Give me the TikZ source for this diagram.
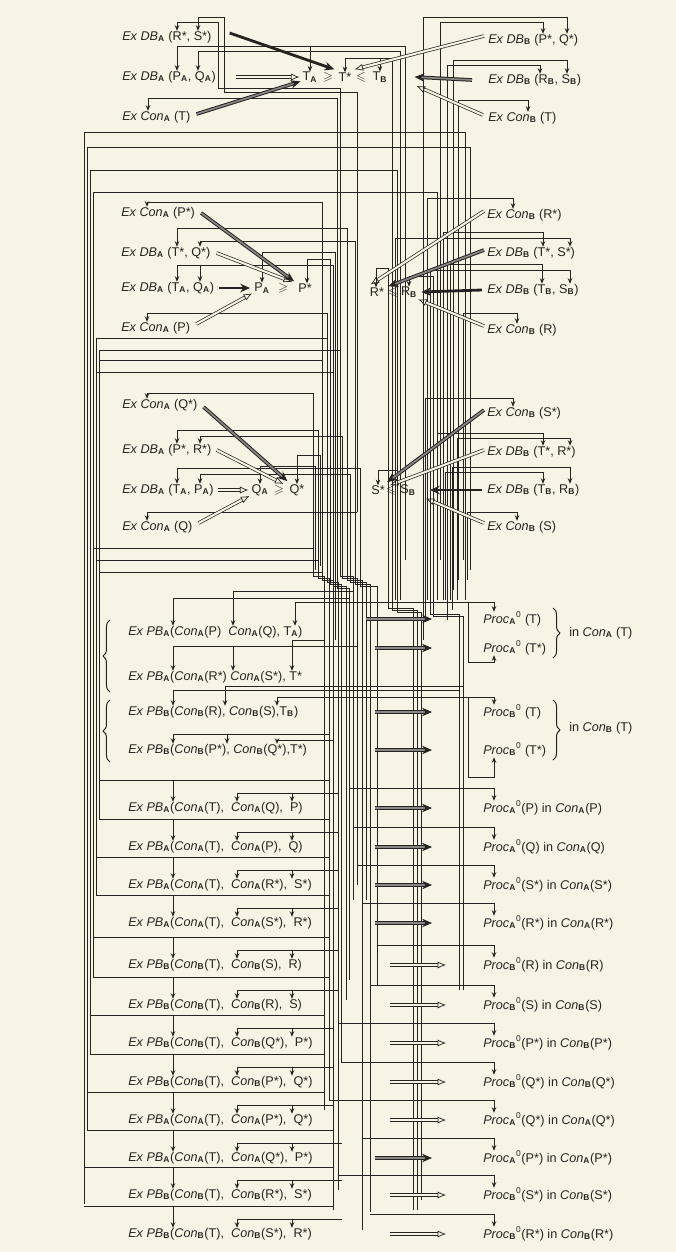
\documentclass[tikz,border=0pt]{standalone}
\usepackage{fontspec}
\setmainfont{Liberation Sans}
\usepackage{amsmath,amssymb}
\usetikzlibrary{arrows.meta,calc,decorations.pathreplacing}

\definecolor{paper}{RGB}{247,243,229}
\definecolor{ink}{RGB}{38,36,34}

\newcommand{\bsub}[1]{\textsubscript{\textbf{#1}}}
\newcommand{\ExDB}[1]{\textit{Ex DB}\bsub{#1}}
\newcommand{\ExCon}[1]{\textit{Ex Con}\bsub{#1}}
\newcommand{\ExPB}[1]{\textit{Ex PB}\bsub{#1}}
\newcommand{\Con}[1]{\textit{Con}\bsub{#1}}
\newcommand{\Proc}[1]{\textit{Proc}\bsub{#1}\textsuperscript{0}}
\newcommand{\ix}[2]{#1\bsub{#2}}

\tikzset{
  lbl/.style={anchor=west,inner sep=0pt,font=\fontsize{9}{10}\selectfont},
  sym/.style={inner sep=0pt,font=\fontsize{9}{10}\selectfont},
  wire/.style={line width=0.6pt},
  feed/.style={line width=0.6pt,-{Stealth[length=4pt,width=3.2pt]}},
  infer/.style={double=paper,double distance=1.5pt,line width=0.5pt,-{Latex[open,length=6pt,width=5pt]}},
  strong/.style={line width=2pt,-{Stealth[length=7pt,width=6pt]}},
  heavy/.style={double=ink!55,double distance=1.2pt,line width=0.7pt,-{Stealth[length=7pt,width=6pt]}},
  bracesty/.style={decorate,decoration={brace,amplitude=5pt},line width=0.7pt}
}

\begin{document}
\begin{tikzpicture}[x=0.025cm,y=-0.025cm,color=ink]
  \useasboundingbox (0,0) rectangle (676,1252);
  \fill[paper] (0,0) rectangle (676,1252);

  % T block
  \node[lbl] (a1) at (122,37) {\ExDB{A} (R*, S*)};
  \node[lbl] (a2) at (122,77) {\ExDB{A} (\ix{P}{A}, \ix{Q}{A})};
  \node[lbl] (a3) at (122,117) {\ExCon{A} (T)};
  \node[lbl] (b1) at (488,40) {\ExDB{B} (P*, Q*)};
  \node[lbl] (b2) at (488,80) {\ExDB{B} (\ix{R}{B}, \ix{S}{B})};
  \node[lbl] (b3) at (488,118) {\ExCon{B} (T)};
  \node[sym] (tA) at (310,77) {\ix{T}{A}};
  \node[sym] (tge) at (328,77) {$\geqslant$};
  \node[sym] (tS) at (345,77) {T*};
  \node[sym] (tle) at (361,77) {$\leqslant$};
  \node[sym] (tB) at (380,77) {\ix{T}{B}};

  \draw[feed] (353,900) |- (340,576) |- (218,88) |- (177,22) -- (177,0 |- a1.north);
  \draw[feed] (357,512) |- (224,92) |- (198,17) -- (198,0 |- a1.north);
  \draw[feed] (405,560) |- (177,46) -- (177,0 |- a2.north);
  \draw[feed] (310,46) -- (310,0 |- tA.north);
  \draw[feed] (400,600) |- (198,51) -- (198,0 |- a2.north);
  \draw[feed] (349,980) |- (337,588) |- (148,98) -- (148,0 |- a3.north);
  \draw[feed] (417,1210) |- (392,610) |- (345,58) -- (345,0 |- tS.north);
  \draw[feed] (380,58) -- (380,0 |- tB.north);
  \draw[feed] (423,640) |- (567,17) -- (567,0 |- b1.north);
  \draw[feed] (440,560) |- (543,22) -- (543,0 |- b1.north);
  \draw[feed] (453,590) |- (567,60) -- (567,0 |- b2.north);
  \draw[feed] (447,620) |- (540,65) -- (540,0 |- b2.north);
  \draw[feed] (458,580) |- (528,100) -- (528,0 |- b3.north);

  \draw[strong] ($(a1.east)+(18,-4)$) -- ($(tS.north west)+(-4,-3)$);
  \draw[infer] ($(b1.west)+(-4,-4)$) -- ($(tS.north east)+(3,-3)$);
  \draw[infer] ($(a2.east)+(20,0)$) -- ($(tA.west)+(-3,0)$);
  \draw[heavy] ($(a3.east)+(6,-3)$) -- ($(tA.south west)+(-2,-1)$);
  \draw[heavy] ($(b2.west)+(-16,0)$) -- ($(tB.east)+(27,0)$);
  \draw[infer] ($(b3.west)+(-5,-3)$) -- ($(tB.east)+(29,9)$);

  % long lines down the left side
  \draw[wire] (84,1204) -- (84,132) -- (465,132) -- (465,600);
  \draw[wire] (87,1130) -- (87,147) -- (470,147) -- (470,570);
  \draw[wire] (90,1054) -- (90,170) -- (397,170) -- (397,612) -- (421,612) -- (421,1200);
  \draw[wire] (93,977) -- (93,192) -- (437,192) -- (437,600);
  \draw[wire] (96,895) -- (96,338) -- (327,338);
  \draw[wire] (99,819) -- (99,350) -- (340,350);
  \draw[wire] (99,360) -- (322,360);
  \draw[wire] (96,372) -- (333,372);
  \draw[wire] (93,548) -- (313,548);
  \draw[wire] (96,560) -- (318,560);
  \draw[wire] (99,572) -- (322,572);

  % P and R block
  \node[lbl] (c1) at (121,213) {\ExCon{A} (P*)};
  \node[lbl] (c2) at (121,253) {\ExDB{A} (T*, Q*)};
  \node[lbl] (c3) at (121,288) {\ExDB{A} (\ix{T}{A}, \ix{Q}{A})};
  \node[lbl] (c4) at (121,328) {\ExCon{A} (P)};
  \node[sym] (pA) at (262,288) {\ix{P}{A}};
  \node[sym] (pge) at (283,288) {$\geqslant$};
  \node[sym] (pS) at (305,288) {P*};
  \node[lbl] (d1) at (487,215) {\ExCon{B} (R*)};
  \node[lbl] (d2) at (487,253) {\ExDB{B} (T*, S*)};
  \node[lbl] (d3) at (487,290) {\ExDB{B} (\ix{T}{B}, \ix{S}{B})};
  \node[lbl] (d4) at (487,330) {\ExCon{B} (R)};
  \node[sym] (rS) at (377,292) {R*};
  \node[sym] (rle) at (393,292) {$\leqslant$};
  \node[sym] (rB) at (409,292) {\ix{R}{B}};

  \draw[feed] (333,1210) |- (322,580) |- (147,202) -- (147,0 |- c1.north);
  \draw[feed] (362,1230) |- (347,580) |- (177,228) -- (177,0 |- c2.north);
  \draw[feed] (370,1212) |- (355,584) |- (200,241) -- (200,0 |- c2.north);
  \draw[feed] (346,1000) |- (333,586) |- (177,265) -- (177,0 |- c3.north);
  \draw[feed] (200,265) -- (200,0 |- c3.north);
  \draw[feed] (338,1190) |- (327,582) |- (147,313) -- (147,0 |- c4.north);
  \draw[feed] (335,640) |- (262,252) -- (262,0 |- pA.north);
  \draw[feed] (341,1062) |- (330,584) |- (307,259) -- (307,0 |- pS.north);
  \draw[feed] (427,600) |- (513,198) -- (513,0 |- d1.north);
  \draw[feed] (443,600) |- (543,232) -- (543,0 |- d2.north);
  \draw[feed] (395,600) |- (570,238) -- (570,0 |- d2.north);
  \draw[feed] (450,600) |- (542,264) -- (542,0 |- d3.north);
  \draw[feed] (459,990) |- (430,614) |- (570,270) -- (570,0 |- d3.north);
  \draw[feed] (463,560) |- (517,313) -- (517,0 |- d4.north);
  \draw[feed] (413,1210) |- (388,608) |- (376,268) -- (376,0 |- rS.north);
  \draw[feed] (463,990) |- (433,616) |- (409,276) -- (409,0 |- rB.north);

  \draw[heavy] ($(c1.east)+(6,0)$) -- ($(pS.north west)+(-4,-2)$);
  \draw[infer] ($(c2.east)+(6,0)$) -- ($(pS.west)+(-6,-6)$);
  \draw[strong] ($(c3.east)+(5,0)$) -- ($(pA.west)+(-4,0)$);
  \draw[infer] ($(c4.east)+(6,-4)$) -- ($(pA.south west)+(-2,0)$);
  \draw[infer] ($(d1.west)+(-3,-4)$) -- ($(rS.north west)+(1,-3)$);
  \draw[heavy] ($(d2.west)+(-3,-3)$) -- ($(rS.north east)+(4,-1)$);
  \draw[strong] ($(d3.west)+(-5,0)$) -- ($(rB.east)+(4,0)$);
  \draw[infer] ($(d4.west)+(-3,-4)$) -- ($(rB.south east)+(1,2)$);

  % Q and S block
  \node[lbl] (e1) at (122,405) {\ExCon{A} (Q*)};
  \node[lbl] (e2) at (122,450) {\ExDB{A} (P*, R*)};
  \node[lbl] (e3) at (122,490) {\ExDB{A} (\ix{T}{A}, \ix{P}{A})};
  \node[lbl] (e4) at (122,527) {\ExCon{A} (Q)};
  \node[sym] (qA) at (260,490) {\ix{Q}{A}};
  \node[sym] (qge) at (279,490) {$\geqslant$};
  \node[sym] (qS) at (297,490) {Q*};
  \node[lbl] (f1) at (487,413) {\ExCon{B} (S*)};
  \node[lbl] (f2) at (487,452) {\ExDB{B} (T*, R*)};
  \node[lbl] (f3) at (487,490) {\ExDB{B} (\ix{T}{B}, \ix{R}{B})};
  \node[lbl] (f4) at (487,527) {\ExCon{B} (S)};
  \node[sym] (sS) at (378,490) {S*};
  \node[sym] (sle) at (391,490) {$\leqslant$};
  \node[sym] (sB) at (408,490) {\ix{S}{B}};

  \draw[feed] (324,1110) |- (313,576) |- (147,393) -- (147,0 |- e1.north);
  \draw[feed] (329,1100) |- (318,578) |- (177,430) -- (177,0 |- e2.north);
  \draw[feed] (357,885) |- (342,578) |- (200,436) -- (200,0 |- e2.north);
  \draw[feed] (377,985) |- (360,586) |- (177,468) -- (177,0 |- e3.north);
  \draw[feed] (366,900) |- (350,582) |- (200,474) -- (200,0 |- e3.north);
  \draw[feed] (357,512) -| (147,0 |- e4.north);
  \draw[feed] (315,570) |- (260,466) -- (260,0 |- qA.north);
  \draw[feed] (320,566) |- (297,455) -- (297,0 |- qS.north);
  \draw[feed] (425,620) |- (513,398) -- (513,0 |- f1.north);
  \draw[feed] (437,433) -| (543,0 |- f2.north);
  \draw[feed] (457,600) |- (570,438) -- (570,0 |- f2.north);
  \draw[feed] (445,600) |- (543,472) -- (543,0 |- f3.north);
  \draw[feed] (452,610) |- (570,467) -- (570,0 |- f3.north);
  \draw[feed] (467,580) |- (517,512) -- (517,0 |- f4.north);
  \draw[feed] (397,470) -| (378,0 |- sS.north);

  \draw[heavy] ($(e1.east)+(6,2)$) -- ($(qS.north west)+(-2,-3)$);
  \draw[infer] ($(e2.east)+(5,0)$) -- ($(qS.west)+(-6,-6)$);
  \draw[infer] ($(e3.east)+(4,0)$) -- ($(qA.west)+(-3,0)$);
  \draw[infer] ($(e4.east)+(6,-4)$) -- ($(qA.south west)+(-2,0)$);
  \draw[heavy] ($(f1.west)+(-3,-3)$) -- ($(sS.north east)+(2,-3)$);
  \draw[infer] ($(f2.west)+(-3,-2)$) -- ($(sS.north east)+(5,0)$);
  \draw[strong] ($(f3.west)+(-5,0)$) -- ($(sB.east)+(14,0)$);
  \draw[infer] ($(f4.west)+(-3,-4)$) -- ($(sB.south east)+(10,3)$);

  % braced PB rows
  \node[lbl] (g1) at (128,632) {\ExPB{A}(\Con{A}(P)\ \ \Con{A}(Q), \ix{T}{A})};
  \node[lbl] (g2) at (128,677) {\ExPB{A}(\Con{A}(R*) \Con{A}(S*), T*};
  \node[lbl] (g3) at (128,712) {\ExPB{B}(\Con{B}(R), \Con{B}(S),\ix{T}{B})};
  \node[lbl] (g4) at (128,750) {\ExPB{B}(\Con{B}(P*), \Con{B}(Q*),T*)};
  \node[lbl] (h1) at (483,619) {\Proc{A} (T)};
  \node[lbl] (h2) at (483,648) {\Proc{A} (T*)};
  \node[lbl] (h3) at (483,712) {\Proc{B} (T)};
  \node[lbl] (h4) at (483,750) {\Proc{B} (T*)};
  \node[lbl] (inA) at (569,633) {in \Con{A} (T)};
  \node[lbl] (inB) at (569,728) {in \Con{B} (T)};
  \draw[bracesty] (110,692) -- (110,620);
  \draw[bracesty] (110,762) -- (110,700);
  \draw[bracesty] (553,608) -- (553,658);
  \draw[bracesty] (553,700) -- (553,760);

  \draw[feed] (349,598) -| (173,0 |- g1.north);
  \draw[feed] (353,591) -| (233,0 |- g1.north);
  \draw[feed] (468,602) -- (295,602) -- (295,0 |- g1.north);
  \draw[feed] (468,602) -| (494,0 |- h1.north);
  \draw[feed] (468,602) |- (494,662) -- (494,0 |- h2.south);
  \draw[feed] (357,646) -| (173,0 |- g2.north);
  \draw[feed] (233,646) -- (233,0 |- g2.north);
  \draw[feed] (324,640) -| (292,0 |- g2.north);
  \draw[feed] (459,690) -| (173,0 |- g3.north);
  \draw[feed] (463,686) -| (225,0 |- g3.north);
  \draw[feed] (468,697) -- (277,697) -- (277,0 |- g3.north);
  \draw[feed] (468,697) -| (494,0 |- h3.north);
  \draw[feed] (468,697) |- (494,777) -- (494,0 |- h4.south);
  \draw[feed] (329,734) -| (173,0 |- g4.north);
  \draw[feed] (227,734) -- (227,0 |- g4.north);
  \draw[feed] (333,740) -| (277,0 |- g4.north);

  \draw[heavy] (366,0 |- h1.west) -- (432,0 |- h1.west);
  \draw[heavy] (375,0 |- h2.west) -- (432,0 |- h2.west);
  \draw[heavy] (375,0 |- h3.west) -- (432,0 |- h3.west);
  \draw[heavy] (375,0 |- h4.west) -- (432,0 |- h4.west);

  % PB rows and their Proc
  \foreach \i/\y/\s/\v/\w/\xl/\xb/\xp in {1/808/A/Q/P/99/329/349, 2/847/A/P/Q/99/329/353,
      3/885/A/R*/S*/96/329/357, 4/923/A/S*/R*/96/329/362, 5/965/B/S/R/93/329/377,
      6/1005/B/R/S/93/329/370, 7/1043/B/Q*/P*/90/324/338, 8/1082/B/P*/Q*/90/324/341,
      9/1120/A/P*/Q*/87/324/329, 10/1158/A/Q*/P*/87/333/362, 11/1195/B/R*/S*/84/333/338,
      12/1234/B/S*/R*/84/333/370}{
    \node[lbl] (pb\i) at (128,\y) {\ExPB{\s}(\Con{\s}(T),\ \ \Con{\s}(\v),\ \ \w)};
    \node[lbl] (pr\i) at (483,\y) {\Proc{\s}(\w) in \Con{\s}(\w)};
    \draw[wire] (\xl,\y-28) -- (\xb,\y-28);
    \draw[feed] (173,\y-28) -- (173,0 |- pb\i.north);
    \draw[wire] (237,\y-15) -- (\xb+9,\y-15);
    \draw[feed] (237,\y-15) -- (237,0 |- pb\i.north);
    \draw[feed] (292,\y-15) -- (292,0 |- pb\i.north);
    \draw[feed] (\xp,\y-20) -| (494,0 |- pr\i.north);
  }
  \foreach \i in {1,2,3,4,10}
    \draw[heavy] (375,0 |- pr\i.west) -- (432,0 |- pr\i.west);
  \foreach \i in {5,6,7,8,9,11,12}
    \draw[infer] (390,0 |- pr\i.west) -- (446,0 |- pr\i.west);
\end{tikzpicture}
\end{document}
